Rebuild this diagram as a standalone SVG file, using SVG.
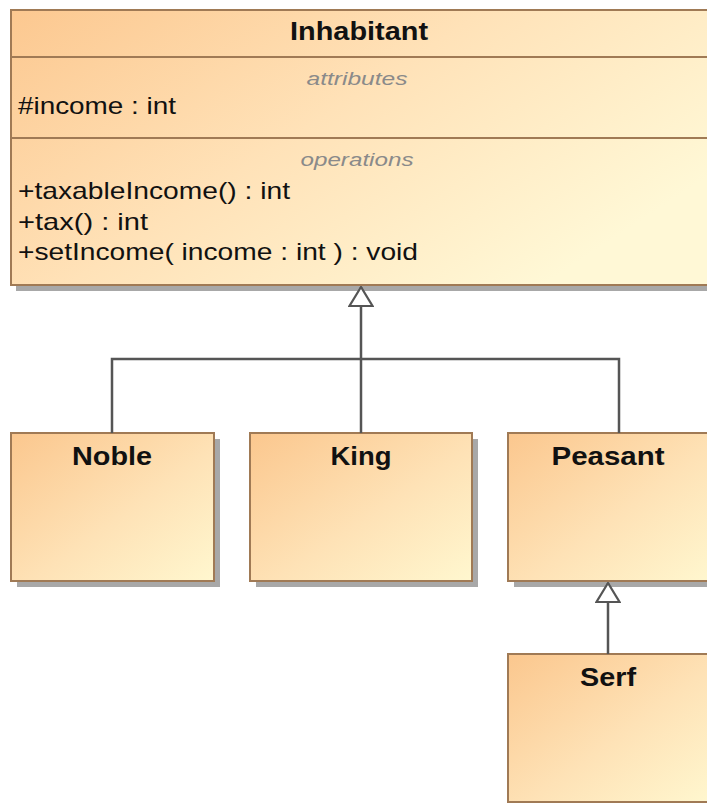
<svg xmlns="http://www.w3.org/2000/svg" width="707" height="803" viewBox="0 0 707 803">
<defs>
<linearGradient id="gBig" x1="0" y1="0" x2="1" y2="0.6">
<stop offset="0" stop-color="#fcc890"/>
<stop offset="0.5" stop-color="#ffe2b8"/>
<stop offset="1" stop-color="#fff8d6"/>
</linearGradient>
<linearGradient id="gSmall" x1="0" y1="0" x2="1" y2="1">
<stop offset="0" stop-color="#fbc78e"/>
<stop offset="0.55" stop-color="#fee2b6"/>
<stop offset="1" stop-color="#fff7cf"/>
</linearGradient>
<marker id="gen" markerWidth="22" markerHeight="26" refX="20.5" refY="13" orient="auto" markerUnits="userSpaceOnUse" viewBox="0 0 22 26">
<path d="M20.5 13 L1.5 1.5 L1.5 24.5 Z" fill="#ffffff" stroke="#555555" stroke-width="2.2" stroke-linejoin="miter"/>
</marker>
</defs>
<style>
.shadow{fill:#a8a8a8;}
.box{stroke:#a07a55;stroke-width:2;}
.sep{stroke:#a07a55;stroke-width:2;fill:none;}
.title{font-family:"Liberation Sans",Arial,sans-serif;font-weight:bold;font-size:25px;fill:#111111;text-anchor:middle;}
.comp{font-family:"Liberation Sans",Arial,sans-serif;font-style:italic;font-size:19px;fill:#8a8a8a;text-anchor:middle;}
.mem{font-family:"Liberation Sans",Arial,sans-serif;font-size:24px;fill:#111111;}
.conn{stroke:#555555;stroke-width:2.5;fill:none;}
</style>
<rect width="707" height="803" fill="#ffffff"/>

<g id="Inhabitant">
<rect class="shadow" x="16" y="15" width="700" height="276"/>
<rect class="box" x="11" y="10" width="700" height="275" fill="url(#gBig)"/>
<line class="sep" x1="11" y1="57" x2="711" y2="57"/>
<line class="sep" x1="11" y1="138" x2="711" y2="138"/>
<text class="title" x="359" y="40" textLength="138" lengthAdjust="spacingAndGlyphs">Inhabitant</text>
<text class="comp" x="357" y="85" textLength="101" lengthAdjust="spacingAndGlyphs">attributes</text>
<text class="mem" x="18" y="114" textLength="158" lengthAdjust="spacingAndGlyphs">#income : int</text>
<text class="comp" x="357" y="166" textLength="113" lengthAdjust="spacingAndGlyphs">operations</text>
<text class="mem" x="18" y="199" textLength="272" lengthAdjust="spacingAndGlyphs">+taxableIncome() : int</text>
<text class="mem" x="18" y="230" textLength="130" lengthAdjust="spacingAndGlyphs">+tax() : int</text>
<text class="mem" x="18" y="260" textLength="400" lengthAdjust="spacingAndGlyphs">+setIncome( income : int ) : void</text>
</g>

<g id="Noble">
<rect class="shadow" x="17" y="439" width="203" height="148"/>
<rect class="box" x="11" y="433" width="203" height="148" fill="url(#gSmall)"/>
<text class="title" x="112" y="465" textLength="80" lengthAdjust="spacingAndGlyphs">Noble</text>
</g>

<g id="King">
<rect class="shadow" x="256" y="439" width="222" height="148"/>
<rect class="box" x="250" y="433" width="222" height="148" fill="url(#gSmall)"/>
<text class="title" x="361" y="465" textLength="61" lengthAdjust="spacingAndGlyphs">King</text>
</g>

<g id="Peasant">
<rect class="shadow" x="514" y="439" width="203" height="148"/>
<rect class="box" x="508" y="433" width="203" height="148" fill="url(#gSmall)"/>
<text class="title" x="608" y="465" textLength="113" lengthAdjust="spacingAndGlyphs">Peasant</text>
</g>

<g id="Serf">
<rect class="shadow" x="514" y="660" width="203" height="148"/>
<rect class="box" x="508" y="654" width="203" height="148" fill="url(#gSmall)"/>
<text class="title" x="608" y="686" textLength="56" lengthAdjust="spacingAndGlyphs">Serf</text>
</g>

<g id="connectors">
<path class="conn" d="M361 433 L361 287" marker-end="url(#gen)"/>
<path class="conn" d="M112 433 L112 359 L619 359 L619 433"/>
<path class="conn" d="M608 654 L608 583" marker-end="url(#gen)"/>
</g>
</svg>
